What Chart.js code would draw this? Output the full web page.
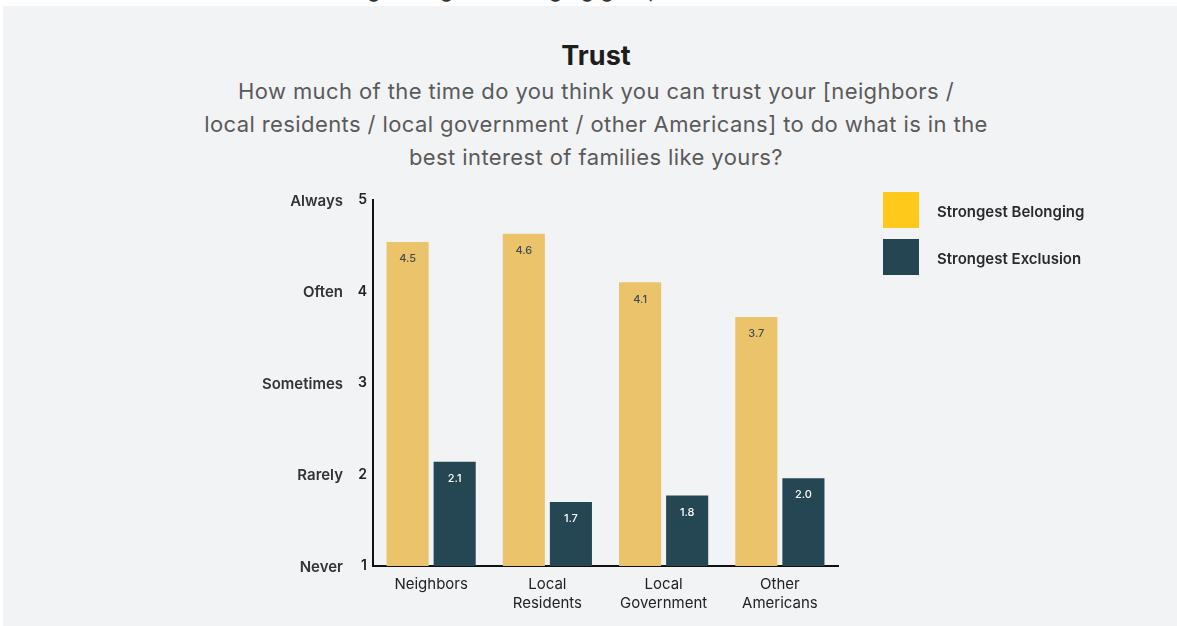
<!DOCTYPE html>
<html>
<head>
<meta charset="utf-8">
<script src="https://cdn.jsdelivr.net/npm/chart.js@4"></script>
<style>
  html, body { margin: 0; padding: 0; background: #fff; }
  body { width: 1177px; height: 626px; position: relative; overflow: hidden; font-family: Inter, sans-serif; }
  #panel { position: absolute; left: 3px; top: 6px; right: 0; bottom: 0; background: #f2f3f5; }
  #cut { position: absolute; left: 0; top: 0; width: 1177px; height: 6px; overflow: hidden; }
  #cut div { position: absolute; left: 250px; top: -24px; font-size: 22px; line-height: 26px; color: #333; white-space: nowrap; }
  #title { position: absolute; left: 196px; width: 800px; top: 39px; text-align: center; font-size: 27px; font-weight: 700; color: #1d1d1d; }
  #sub { position: absolute; left: 96px; width: 1000px; top: 75px; text-align: center; font-size: 22px; letter-spacing: 0.4px; line-height: 33px; color: #5a5a5a; }
  #chart { position: absolute; left: 0; top: 0; }
  .leg { position: absolute; left: 883px; font-size: 15px; color: #2a2a2a; }
  .leg span { position: absolute; left: 0; top: 0; width: 36px; height: 36px; }
  .leg b { position: absolute; left: 54px; top: 10px; font-weight: 600; white-space: nowrap; }
</style>
</head>
<body>
<div id="cut"><div>Trust among strongest belonging groups</div></div>
<div id="panel"></div>
<div id="title">Trust</div>
<div id="sub">How much of the time do you think you can trust your [neighbors /<br>local residents / local government / other Americans] to do what is in the<br>best interest of families like yours?</div>
<canvas id="chart" width="1177" height="626"></canvas>
<div class="leg" style="top:192px"><span style="background:#fec91a"></span><b>Strongest Belonging</b></div>
<div class="leg" style="top:239px"><span style="background:#244653"></span><b>Strongest Exclusion</b></div>
<script>
const categories = [['Neighbors'], ['Local', 'Residents'], ['Local', 'Government'], ['Other', 'Americans']];
const belonging = [4.54, 4.63, 4.10, 3.72];
const exclusion = [2.14, 1.70, 1.77, 1.96];
const scaleWords = { 1: 'Never', 2: 'Rarely', 3: 'Sometimes', 4: 'Often', 5: 'Always' };

// value labels inside the top of each bar
const valueLabels = {
    id: 'valueLabels',
    afterDatasetsDraw(chart) {
        const ctx = chart.ctx;
        ctx.save();
        ctx.font = '500 11px Inter';
        ctx.textAlign = 'center';
        ctx.textBaseline = 'middle';
        chart.data.datasets.forEach((ds, i) => {
            chart.getDatasetMeta(i).data.forEach((bar, j) => {
                ctx.fillStyle = i === 0 ? '#3d4d57' : '#ffffff';
                ctx.fillText(ds.data[j].toFixed(1), bar.x, bar.y + 17);
            });
        });
        ctx.restore();
    }
};

// word names next to the y ticks
const scaleNames = {
    id: 'scaleNames',
    afterDraw(chart) {
        const ctx = chart.ctx;
        const y = chart.scales.y;
        ctx.save();
        ctx.font = '600 15px Inter';
        ctx.fillStyle = '#333';
        ctx.textAlign = 'right';
        ctx.textBaseline = 'middle';
        Object.keys(scaleWords).forEach(v => {
            ctx.fillText(scaleWords[v], 343, y.getPixelForValue(+v) + 1);
        });
        ctx.restore();
    }
};

new Chart(document.querySelector('#chart').getContext('2d'), {
    type: 'bar',
    data: {
        labels: categories,
        datasets: [
            { label: 'Strongest Belonging', data: belonging, backgroundColor: '#eac36a' },
            { label: 'Strongest Exclusion', data: exclusion, backgroundColor: '#254653' }
        ]
    },
    options: {
        responsive: false,
        animation: false,
        layout: { padding: { top: 200, right: 339, left: 0, bottom: 0 } },
        datasets: { bar: { categoryPercentage: 0.81, barPercentage: 0.894 } },
        plugins: { legend: { display: false }, tooltip: { enabled: false } },
        scales: {
            x: {
                grid: { display: false, drawTicks: false },
                border: { display: true, color: '#111', width: 2 },
                ticks: { color: '#222', font: { family: 'Inter', size: 15, lineHeight: 1.27 }, padding: 9 },
                afterFit(s) { s.height = 60; }
            },
            y: {
                min: 1,
                max: 5,
                grid: { display: false, drawTicks: false },
                border: { display: true, color: '#111', width: 2 },
                ticks: { stepSize: 1, color: '#222', font: { family: 'Inter', size: 14, weight: '600' }, padding: 6 },
                afterFit(s) { s.width = 373; }
            }
        }
    },
    plugins: [valueLabels, scaleNames]
});
</script>
</body>
</html>
